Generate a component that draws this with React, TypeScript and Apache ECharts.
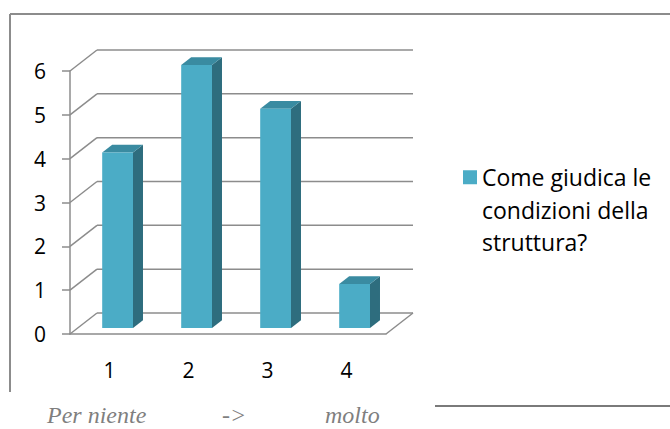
import React, { useEffect, useRef } from "react";
import * as echarts from "echarts";

const categories = ["1", "2", "3", "4"];
const values = [4, 6, 5, 1];
const yTicks = [0, 1, 2, 3, 4, 5, 6];
const seriesName = "Come giudica le condizioni della struttura?";
const legendLines = ["Come giudica le", "condizioni della", "struttura?"];
const footerLabels = ["Per niente", "->", "molto"];

const DEPTH_DX = 27;
const DEPTH_DY = -21;
const GRID_COLOR = "#8c8c8c";
const FRONT = "#4bacc6";
const SIDE = "#2e6d7e";
const TOP = "#3a8ba1";

export default function App() {
  const ref = useRef<HTMLDivElement>(null);
  useEffect(() => {
    document.body.style.margin = "0";
    if (!ref.current) return;
    const chart = echarts.init(ref.current, undefined, { renderer: "svg" });
    const footerStyle = {
      fontSize: 24,
      lineHeight: 24,
      fontStyle: "italic",
      fontFamily: "Liberation Serif",
      fill: "#7f7f7f",
    };
    const option: any = {
      animation: false,
      backgroundColor: "#ffffff",
      grid: { left: 70, top: 71, right: 284, bottom: 95 },
      xAxis: {
        type: "category",
        data: categories,
        axisLine: { lineStyle: { color: GRID_COLOR, width: 1.5 } },
        axisTick: { length: 8, lineStyle: { color: GRID_COLOR, width: 1.5 } },
        axisLabel: { color: "#000", fontSize: 21, fontFamily: "Open Sans", margin: 25 },
      },
      yAxis: {
        type: "value",
        min: 0,
        max: 6,
        interval: 1,
        axisLine: { show: true, lineStyle: { color: GRID_COLOR, width: 1.5 } },
        axisTick: { show: true, length: 8, lineStyle: { color: GRID_COLOR, width: 1.5 } },
        splitLine: { show: false },
        axisLabel: { color: "#000", fontSize: 21, fontFamily: "Open Sans", margin: 24 },
      },
      legend: {
        data: [seriesName],
        left: 463,
        top: 96,
        padding: 0,
        icon: "rect",
        itemWidth: 14,
        itemHeight: 14,
        itemGap: 6,
        formatter: () => "\n\n" + legendLines.join("\n"),
        textStyle: {
          color: "#000",
          fontSize: 23,
          fontFamily: "Open Sans",
          lineHeight: 32.5,
        },
      },
      graphic: [
        { type: "line", shape: { x1: 10, y1: 14, x2: 670, y2: 14 }, style: { stroke: GRID_COLOR, lineWidth: 2 } },
        { type: "line", shape: { x1: 10, y1: 14, x2: 10, y2: 392 }, style: { stroke: GRID_COLOR, lineWidth: 2 } },
        { type: "line", shape: { x1: 435, y1: 406, x2: 670, y2: 406 }, style: { stroke: "#7a7a7a", lineWidth: 2 } },
        { type: "text", left: 47, top: 403, style: { text: footerLabels[0], ...footerStyle } },
        { type: "text", left: 222, top: 403, style: { text: footerLabels[1], ...footerStyle } },
        { type: "text", left: 325, top: 403, style: { text: footerLabels[2], ...footerStyle } },
      ],
      series: [
        {
          type: "custom",
          name: "frame",
          z: 1,
          silent: true,
          data: yTicks.map((v) => [0, v]),
          encode: { x: 0, y: 1 },
          renderItem: (params: any, api: any) => {
            const v = api.value(1);
            const cs = params.coordSys;
            const y = api.coord([0, v])[1];
            const x0 = cs.x;
            const x1 = cs.x + cs.width;
            const style = { stroke: GRID_COLOR, lineWidth: 1.5, fill: "none" };
            const children: any[] = [
              { type: "line", shape: { x1: x0, y1: y, x2: x0 + DEPTH_DX, y2: y + DEPTH_DY }, style },
              { type: "line", shape: { x1: x0 + DEPTH_DX, y1: y + DEPTH_DY, x2: x1 + DEPTH_DX, y2: y + DEPTH_DY }, style },
            ];
            if (v === 0) {
              children.push({ type: "line", shape: { x1: x1, y1: y, x2: x1 + DEPTH_DX, y2: y + DEPTH_DY }, style });
            }
            return { type: "group", children };
          },
        },
        {
          type: "custom",
          name: seriesName,
          z: 5,
          itemStyle: { color: FRONT },
          data: values.map((v, i) => [i, v]),
          encode: { x: 0, y: 1 },
          renderItem: (params: any, api: any) => {
            const idx = api.value(0);
            const val = api.value(1);
            const [cx, cy] = api.coord([idx, val]);
            const by = api.coord([idx, 0])[1];
            const slot = api.size([1, 0])[0];
            const w = slot * 0.39;
            const ox = DEPTH_DX * 0.3;
            const oy = DEPTH_DY * 0.29;
            const dx = DEPTH_DX * 0.37;
            const dy = DEPTH_DY * 0.37;
            const xl = cx + ox - w / 2;
            const xr = cx + ox + w / 2;
            const top = cy + oy;
            const bottom = by + oy;
            return {
              type: "group",
              children: [
                {
                  type: "polygon",
                  shape: { points: [[xr, top], [xr + dx, top + dy], [xr + dx, bottom + dy], [xr, bottom]] },
                  style: { fill: SIDE },
                },
                {
                  type: "polygon",
                  shape: { points: [[xl, top], [xr, top], [xr + dx, top + dy], [xl + dx, top + dy]] },
                  style: { fill: TOP },
                },
                {
                  type: "rect",
                  shape: { x: xl, y: top, width: w, height: bottom - top },
                  style: { fill: FRONT },
                },
              ],
            };
          },
        },
      ],
    };
    chart.setOption(option);
    return () => chart.dispose();
  }, []);
  return <div ref={ref} style={{ width: 670, height: 429 }} />;
}
